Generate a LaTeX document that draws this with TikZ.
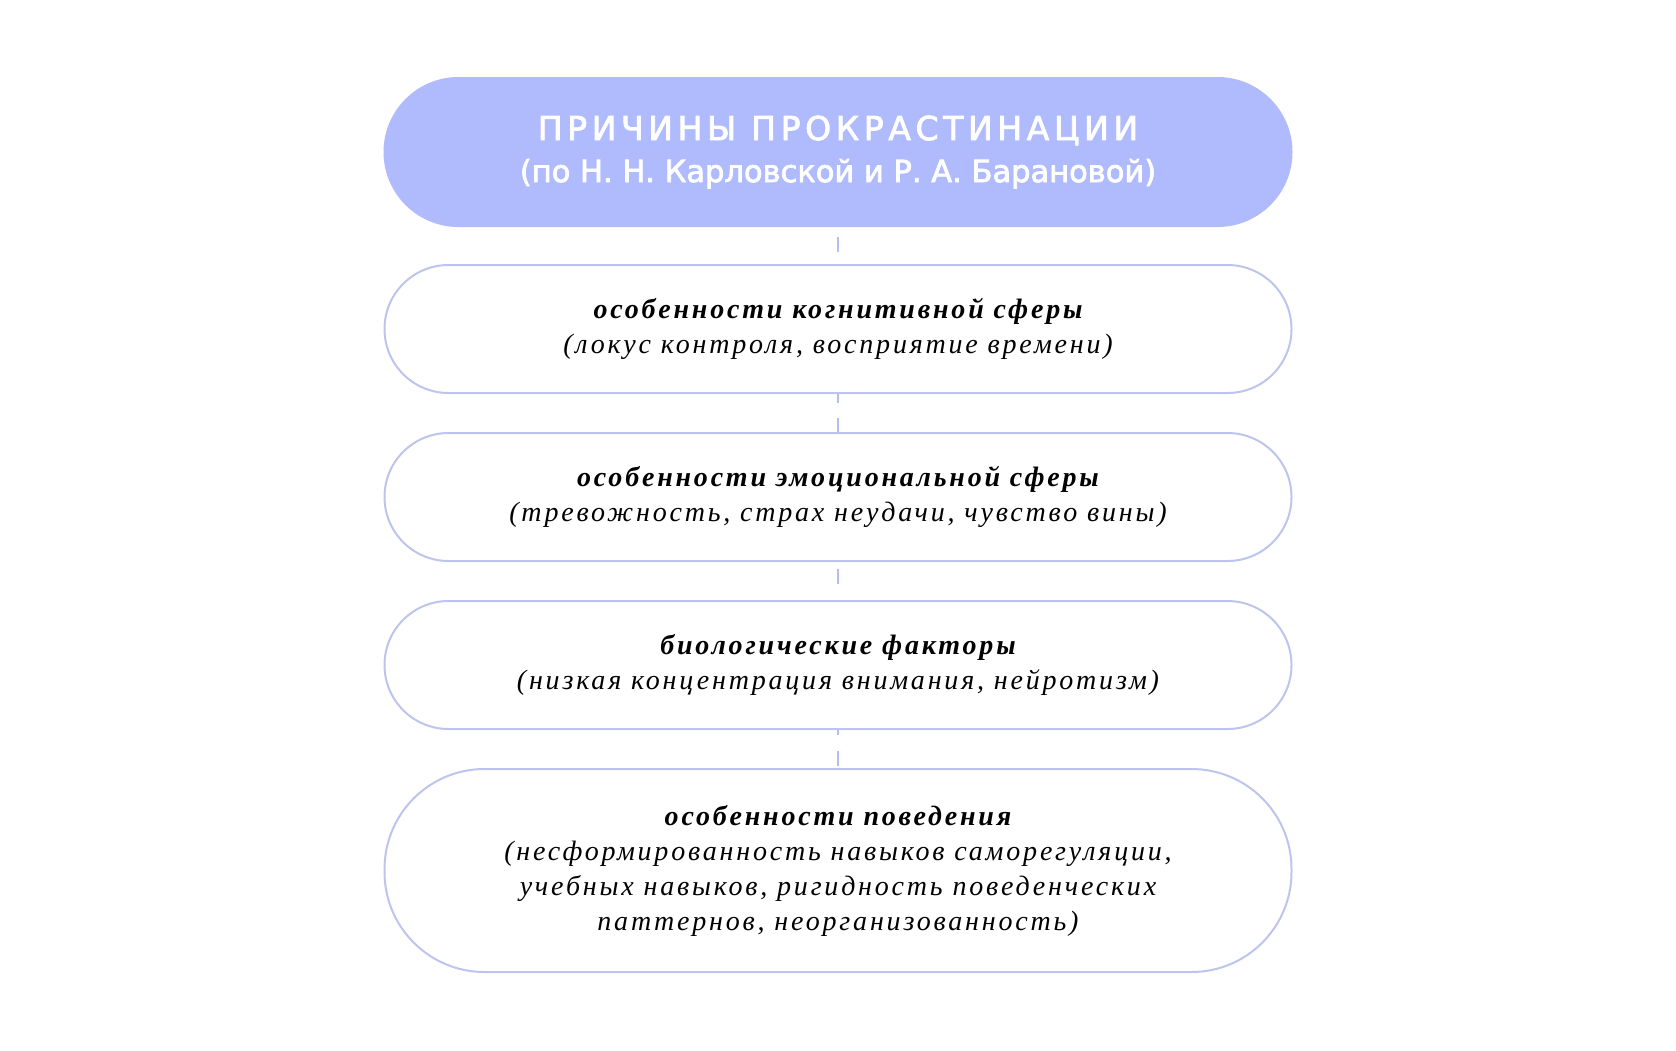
\documentclass[tikz,border=0pt]{standalone}
\usepackage{fontspec}
\setmainfont{Liberation Serif}
\newfontfamily\headfont[FakeBold=2.4]{DejaVu Sans}
\newfontfamily\headcaps[FakeBold=2.4, LetterSpace=14]{DejaVu Sans}
\newfontfamily\bodyfont[LetterSpace=10]{Liberation Serif}
\usetikzlibrary{positioning}
\pgfdeclarelayer{background}
\pgfsetlayers{background,main}

\definecolor{headfill}{HTML}{AFBBFD}
\definecolor{boxline}{HTML}{BDC5EE}
\definecolor{dashline}{HTML}{B3BDF5}

\tikzset{
	headbox/.style={draw=none, fill=headfill, rectangle, rounded corners=75pt, minimum width=909pt, minimum height=150pt, align=center, text=white, font=\headfont\fontsize{30.5}{42}\selectfont},
	causebox/.style={draw=boxline, line width=2pt, fill=white, rectangle, rounded corners=64pt, minimum width=907pt, minimum height=128pt, align=center, font=\bodyfont\itshape\fontsize{28}{35}\selectfont},
	link/.style={draw=dashline, line width=2pt, dash pattern=on 15pt off 15.2pt, dash phase=20.2pt}
}

\begin{document}
\begin{tikzpicture}[x=1pt, y=-1pt]
	\useasboundingbox (0,0) rectangle (1676,1050);
	\node[headbox] (top) at (838, 152) {{\headcaps\fontsize{33}{42}\selectfont ПРИЧИНЫ ПРОКРАСТИНАЦИИ}\\(по Н. Н. Карловской и Р. А. Барановой)};
	\node[causebox] (cog) at (838, 329) {\textbf{особенности когнитивной сферы}\\(локус контроля, восприятие времени)};
	\node[causebox] (emo) at (838, 497) {\textbf{особенности эмоциональной сферы}\\(тревожность, страх неудачи, чувство вины)};
	\node[causebox] (bio) at (838, 665) {\textbf{биологические факторы}\\(низкая концентрация внимания, нейротизм)};
	\node[causebox, rounded corners=100pt, minimum height=203pt] (beh) at (838, 870.5) {\textbf{особенности поведения}\\(несформированность навыков саморегуляции,\\учебных навыков, ригидность поведенческих\\паттернов, неорганизованность)};
	\begin{pgfonlayer}{background}
		\draw[link] (top.south) -- (beh.north);
	\end{pgfonlayer}
\end{tikzpicture}
\end{document}
